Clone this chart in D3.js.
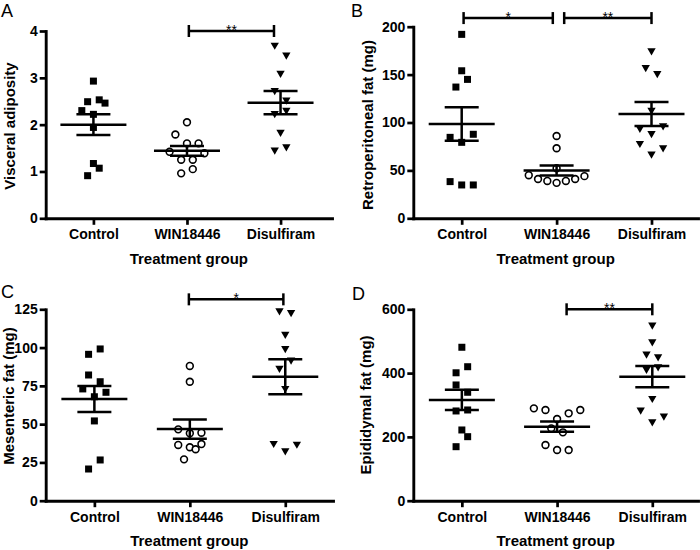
<!DOCTYPE html>
<html><head><meta charset="utf-8">
<script src="https://cdn.jsdelivr.net/npm/d3@7"></script>
<style>body{margin:0;background:#fff}svg{display:block}</style>
</head><body><svg id="c" width="700" height="550"></svg>
<script>
const categories = ["Control", "WIN18446", "Disulfiram"];

// Panel A: Visceral adiposity
const visceralControl = [2.93, 2.49, 2.53, 2.46, 2.30, 2.22, 1.94, 1.17, 1.07, 0.91];
const visceralWin = [2.05, 1.79, 1.60, 1.60, 1.42, 1.39, 1.25, 1.25, 0.96, 1.05];
const visceralDisulfiram = [3.70, 3.49, 3.10, 2.73, 2.53, 2.24, 2.31, 1.84, 1.46, 1.53];
const visceralColumns = [[0, -1, 1, 2, -2, 0, 0, 0, 1, -1], [0, -2, 0, 2, -3, 3, -1, 1, -1, 1], [-1, 1, 0, -1, 1, -1, 1, 0, -1, 1]];
const visceralMean = [2.00, 1.44, 2.47];
const visceralSem = [0.22, 0.105, 0.25];
const visceralTicks = [0, 1, 2, 3, 4];
const visceralSig = [{ from: 1.02, to: 1.93, level: 4, label: "**" }];

// Panel B: Retroperitoneal fat
const retroControl = [192, 154, 145, 137, 84.5, 87.7, 79.3, 38.3, 34.8, 34.8];
const retroWin = [85.9, 73.1, 52.2, 45, 41, 39, 37, 39, 41, 44];
const retroDisulfiram = [175, 157.6, 151.3, 113, 94, 88.7, 96.7, 78.3, 73.7, 67.1];
const retroColumns = [[0, 0, 1, -1, -2, 2, 0, -2, 0, 2], [0, 0, 0, -4.8, -3.2, -1.6, 0, 1.6, 3.2, 4.8], [0, -1, 1, 0, -2, 0, 2, -2, 2, 0]];
const retroMean = [98.4, 49.8, 108.9];
const retroSem = [17.4, 5.2, 12.5];
const retroTicks = [0, 50, 100, 150, 200];
const retroSig = [{ from: 0.02, to: 0.96, level: 209, label: "*" }, { from: 1.08, to: 2.0, level: 209, label: "**" }];

// Panel C: Mesenteric fat
const mesControl = [99.1, 95.6, 82.1, 77.7, 73, 70.8, 67.9, 52.1, 26.6, 20.7];
const mesWin = [88, 77.7, 46.6, 44, 44.4, 36.4, 34.9, 33.6, 37, 27];
const mesDisulfiram = [124.1, 123, 108.7, 99.5, 91.9, 86.5, 73.4, 37.5, 37, 32.7];
const mesColumns = [[1, -1, -1, 1, -2, 2, 0, 0, 1, -1], [0, 0, -2, 0, 2, -2, 0, 1, 2, -1], [-1, 1, 0, 0, 1, -1, 0, -2, 2, 0]];
const mesMean = [66.4, 46.8, 81];
const mesSem = [8.5, 6.3, 11.4];
const mesTicks = [0, 25, 50, 75, 100, 125];
const mesSig = [{ from: 0.99, to: 1.98, level: 131.5, label: "*" }];

// Panel D: Epididymal fat
const epiControl = [481, 420, 401, 362.8, 339.9, 281.3, 284.4, 221.7, 200.7, 169.3];
const epiWin = [289.5, 284.3, 273.9, 284.3, 256, 226.8, 214.3, 174.6, 158.9, 158.9];
const epiDisulfiram = [551, 498.6, 460, 451.6, 412, 420, 321, 284.4, 265.6, 247.7];
const epiColumns = [[0, 1, -1, -1, 1, -1, 1, 0, 1, -1], [-4, -2, 2, 4, 0, -1, 1, -2, 0, 2], [0, 0, -1, 1, -1, 1, 0, -2, 2, 0]];
const epiMean = [315.8, 232, 388.8];
const epiSem = [31.8, 16, 33.4];
const epiTicks = [0, 200, 400, 600];
const epiSig = [{ from: 1.10, to: 2.0, level: 600, label: "**" }];

const svg = d3.select("#c");
const FONT = "'Liberation Sans', Arial, Helvetica, sans-serif";
const COL = 5.8;

const panels = [
  { letter: "A", lx: 1, ly: 17, title: "Visceral adiposity", groups: [visceralControl, visceralWin, visceralDisulfiram], cols: visceralColumns, mean: visceralMean, sem: visceralSem, ticks: visceralTicks, sig: visceralSig,
    left: 45.7, right: 332, top: 31, bottom: 218.3, xEnd: 2.55, tx: 14.5, ty: 126 },
  { letter: "B", lx: 351, ly: 17, title: "Retroperitoneal fat (mg)", groups: [retroControl, retroWin, retroDisulfiram], cols: retroColumns, mean: retroMean, sem: retroSem, ticks: retroTicks, sig: retroSig,
    left: 413.3, right: 698, top: 26.7, bottom: 218.3, xEnd: 2.49, tx: 372.7, ty: 125 },
  { letter: "C", lx: 1, ly: 298, title: "Mesenteric fat (mg)", groups: [mesControl, mesWin, mesDisulfiram], cols: mesColumns, mean: mesMean, sem: mesSem, ticks: mesTicks, sig: mesSig,
    left: 45.7, right: 333, top: 309.3, bottom: 500.7, xEnd: 2.5, tx: 14, ty: 396 },
  { letter: "D", lx: 352, ly: 300, title: "Epididymal fat (mg)", groups: [epiControl, epiWin, epiDisulfiram], cols: epiColumns, mean: epiMean, sem: epiSem, ticks: epiTicks, sig: epiSig,
    left: 413.3, right: 698, top: 309.3, bottom: 500.7, xEnd: 2.48, tx: 370.7, ty: 405 }
];

function drawPanel(p) {
  const g = svg.append("g");
  const y = d3.scaleLinear().domain([0, d3.max(p.ticks)]).range([p.bottom, p.top]);
  const x = d3.scaleLinear().domain([-0.51, p.xEnd]).range([p.left, p.right]);

  const ya = g.append("g").attr("transform", `translate(${p.left},0)`)
    .call(d3.axisLeft(y).tickValues(p.ticks).tickSize(6).tickSizeOuter(0).tickPadding(2).tickFormat(d3.format("d")));
  const xa = g.append("g").attr("transform", `translate(0,${p.bottom})`)
    .call(d3.axisBottom(x).tickValues([0, 1, 2]).tickSize(6.5).tickSizeOuter(0).tickPadding(4.5).tickFormat(i => categories[i]));
  [ya, xa].forEach(a => {
    a.select(".domain").attr("stroke", "#000").attr("stroke-width", 2.9).attr("stroke-linecap", "square");
    a.selectAll(".tick line").attr("stroke", "#000").attr("stroke-width", 2.7);
    a.selectAll("text").attr("fill", "#000").attr("font-family", FONT).attr("font-weight", "bold").attr("font-size", 14);
  });

  // axis titles
  g.append("text").attr("transform", `translate(${p.tx},${p.ty}) rotate(-90)`)
    .attr("text-anchor", "middle").attr("font-family", FONT).attr("font-weight", "bold").attr("font-size", 15)
    .text(p.title);
  g.append("text").attr("x", (p.left + p.right) / 2).attr("y", p.bottom + 45.5)
    .attr("text-anchor", "middle").attr("font-family", FONT).attr("font-weight", "bold").attr("font-size", 15)
    .text("Treatment group");

  // panel letter
  svg.append("text").attr("x", p.lx).attr("y", p.ly).attr("font-family", FONT)
    .attr("font-size", 18).text(p.letter);

  // points
  const tri = d3.symbol().type(d3.symbolTriangle).size(30);
  p.groups.forEach((vals, gi) => {
    const pts = g.append("g");
    vals.forEach((v, i) => {
      const cx = x(gi) + p.cols[gi][i] * COL, cy = y(v);
      if (gi === 0) {
        pts.append("rect").attr("x", cx - 3.5).attr("y", cy - 3.5).attr("width", 7).attr("height", 7).attr("fill", "#000");
      } else if (gi === 1) {
        pts.append("circle").attr("cx", cx).attr("cy", cy).attr("r", 3.4).attr("fill", "#fff").attr("stroke", "#000").attr("stroke-width", 1.6);
      } else {
        pts.append("path").attr("d", tri()).attr("transform", `translate(${cx},${cy}) rotate(180)`).attr("fill", "#000");
      }
    });
  });

  // mean and SEM
  p.mean.forEach((m, gi) => {
    const cx = x(gi), s = p.sem[gi];
    const l = g.append("g").attr("stroke", "#000").attr("stroke-width", 2.5);
    l.append("line").attr("x1", cx - 33).attr("x2", cx + 33).attr("y1", y(m)).attr("y2", y(m));
    l.append("line").attr("x1", cx - 17).attr("x2", cx + 17).attr("y1", y(m + s)).attr("y2", y(m + s));
    l.append("line").attr("x1", cx - 17).attr("x2", cx + 17).attr("y1", y(m - s)).attr("y2", y(m - s));
    l.append("line").attr("x1", cx).attr("x2", cx).attr("y1", y(m - s)).attr("y2", y(m + s));
  });

  // significance brackets
  p.sig.forEach(s => {
    const x1 = x(s.from), x2 = x(s.to), yy = y(s.level);
    const b = g.append("g").attr("stroke", "#000").attr("stroke-width", 2.5);
    b.append("line").attr("x1", x1).attr("x2", x2).attr("y1", yy).attr("y2", yy);
    b.append("line").attr("x1", x1).attr("x2", x1).attr("y1", yy - 6).attr("y2", yy + 6);
    b.append("line").attr("x1", x2).attr("x2", x2).attr("y1", yy - 6).attr("y2", yy + 6);
    g.append("text").attr("x", (x1 + x2) / 2).attr("y", yy + 3.5).attr("text-anchor", "middle")
      .attr("font-family", FONT).attr("font-size", 14).text(s.label);
  });
}

panels.forEach(drawPanel);
</script></body></html>
